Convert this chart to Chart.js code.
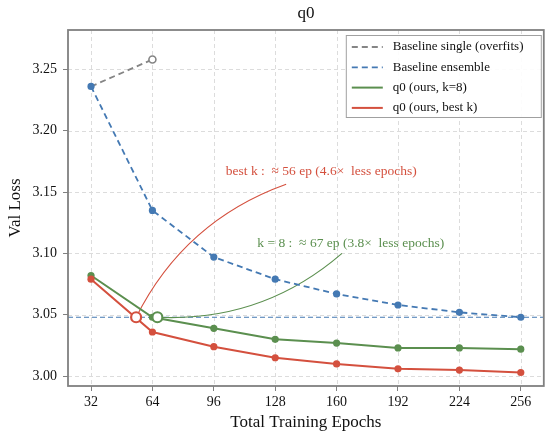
<!DOCTYPE html>
<html lang="en">
<head>
    <meta charset="UTF-8" />
    <title>q0</title>
    <script src="https://cdn.jsdelivr.net/npm/chart.js"></script>
    <style>
        html, body { margin: 0; padding: 0; background: #fff; }
    </style>
</head>
<body>
    <canvas id="myChart" width="551" height="441"></canvas>

    <script>
        // values
        const epochs = [32, 64, 96, 128, 160, 192, 224, 256];
        const singleEpochs = [32, 64];
        const baselineSingle = [3.236, 3.258];
        const baselineEnsemble = [3.236, 3.135, 3.097, 3.079, 3.067, 3.058, 3.052, 3.048];
        const q0K8 = [3.082, 3.048, 3.039, 3.030, 3.027, 3.023, 3.023, 3.022];
        const q0BestK = [3.079, 3.036, 3.024, 3.015, 3.010, 3.006, 3.005, 3.003];
        // where each q0 curve reaches the ensemble's final loss
        const crossBestK = 55.5;
        const crossK8 = 66.6;
        const xTicks = [32, 64, 96, 128, 160, 192, 224, 256];
        const yTicks = [3.00, 3.05, 3.10, 3.15, 3.20, 3.25];

        const GRAY = '#858585';
        const BLUE = '#4479b3';
        const GREEN = '#5b8f4f';
        const RED = '#d4503e';
        const SERIF = '"Liberation Serif", "Times New Roman", serif';

        const targetLoss = baselineEnsemble[baselineEnsemble.length - 1];

        const pts = (xs, ys) => xs.map((x, i) => ({ x: x, y: ys[i] }));

        // annotation text + arrow ends, in data units
        const notes = [
            { text: 'best k :  \u2248 56 ep (4.6\u00d7  less epochs)', color: RED,
              tx: 152, ty: 3.1666, ax: 133.7, ay: 3.1564, from: crossBestK, rad: 0.2 },
            { text: 'k = 8 :  \u2248 67 ep (3.8\u00d7  less epochs)', color: GREEN,
              tx: 167.4, ty: 3.108, ax: 162.8, ay: 3.100, from: crossK8, rad: -0.2 }
        ];

        const extras = {
            id: 'extras',
            beforeDatasetsDraw(chart) {
                const { ctx, chartArea: a, scales: { x, y } } = chart;

                // dashed grid at the tick positions
                ctx.save();
                ctx.strokeStyle = '#dcdcdc';
                ctx.lineWidth = 1;
                ctx.setLineDash([4, 3]);
                x.ticks.forEach(t => {
                    const px = Math.round(x.getPixelForValue(t.value)) + 0.5;
                    ctx.beginPath();
                    ctx.moveTo(px, a.top);
                    ctx.lineTo(px, a.bottom);
                    ctx.stroke();
                });
                y.ticks.forEach(t => {
                    const py = Math.round(y.getPixelForValue(t.value)) + 0.5;
                    ctx.beginPath();
                    ctx.moveTo(a.left, py);
                    ctx.lineTo(a.right, py);
                    ctx.stroke();
                });
                ctx.restore();

                // horizontal reference at the ensemble's final loss
                ctx.save();
                ctx.strokeStyle = BLUE;
                ctx.lineWidth = 1.2;
                ctx.setLineDash([5, 3]);
                const yy = y.getPixelForValue(targetLoss);
                ctx.beginPath();
                ctx.moveTo(a.left, yy);
                ctx.lineTo(a.right, yy);
                ctx.stroke();
                ctx.restore();

                // curved arrows from the crossing markers to the labels
                notes.forEach(n => {
                    const x1 = x.getPixelForValue(n.from), y1 = y.getPixelForValue(targetLoss);
                    const x2 = x.getPixelForValue(n.ax), y2 = y.getPixelForValue(n.ay);
                    const dx = x2 - x1, dy = y2 - y1;
                    const cx = (x1 + x2) / 2 + n.rad * dy;
                    const cy = (y1 + y2) / 2 - n.rad * dx;
                    ctx.save();
                    ctx.strokeStyle = n.color;
                    ctx.lineWidth = 1.1;
                    ctx.beginPath();
                    ctx.moveTo(x1, y1);
                    ctx.quadraticCurveTo(cx, cy, x2, y2);
                    ctx.stroke();
                    ctx.restore();
                });
            },
            afterDatasetsDraw(chart) {
                const { ctx, chartArea: a, scales: { x, y } } = chart;

                // annotation labels
                ctx.save();
                ctx.font = '13.5px ' + SERIF;
                ctx.textAlign = 'center';
                ctx.textBaseline = 'middle';
                notes.forEach(n => {
                    ctx.fillStyle = n.color;
                    ctx.fillText(n.text, x.getPixelForValue(n.tx), y.getPixelForValue(n.ty));
                });
                ctx.restore();

                // frame round the plot
                ctx.save();
                ctx.strokeStyle = '#808080';
                ctx.lineWidth = 1.8;
                ctx.strokeRect(a.left, a.top, a.right - a.left, a.bottom - a.top);
                ctx.restore();

                // legend, top right inside the plot
                const items = chart.data.datasets.filter(d => d.inLegend);
                const bx = a.right - 198, by = a.top + 5, bw = 195, bh = 82;
                ctx.save();
                ctx.fillStyle = 'rgba(255,255,255,0.9)';
                ctx.fillRect(bx, by, bw, bh);
                ctx.strokeStyle = '#a0a0a0';
                ctx.lineWidth = 1;
                ctx.strokeRect(bx + 0.5, by + 0.5, bw, bh);
                ctx.font = '13px ' + SERIF;
                ctx.textBaseline = 'middle';
                items.forEach((d, i) => {
                    const ly = by + 12 + i * 20.3;
                    ctx.strokeStyle = d.borderColor;
                    ctx.lineWidth = d.borderWidth;
                    ctx.setLineDash(d.borderDash || []);
                    ctx.beginPath();
                    ctx.moveTo(bx + 6, ly);
                    ctx.lineTo(bx + 37, ly);
                    ctx.stroke();
                    ctx.setLineDash([]);
                    ctx.fillStyle = '#111';
                    ctx.fillText(d.label, bx + 47, ly);
                });
                ctx.restore();

                // title and axis titles
                ctx.save();
                ctx.fillStyle = '#111';
                ctx.textAlign = 'center';
                ctx.textBaseline = 'middle';
                ctx.font = '17px ' + SERIF;
                ctx.fillText('q0', (a.left + a.right) / 2, 14);
                ctx.fillText('Total Training Epochs', (a.left + a.right) / 2, 423);
                ctx.translate(16, (a.top + a.bottom) / 2);
                ctx.rotate(-Math.PI / 2);
                ctx.fillText('Val Loss', 0, 0);
                ctx.restore();
            }
        };

        const ctx = document.getElementById('myChart').getContext('2d');

        const chart = new Chart(ctx, {
            type: 'scatter',
            data: {
                datasets: [
                    {
                        label: 'Baseline single (overfits)',
                        inLegend: true,
                        data: pts(singleEpochs, baselineSingle),
                        showLine: true,
                        borderColor: GRAY,
                        borderWidth: 1.8,
                        borderDash: [6, 4],
                        pointRadius: [0, 3.5],
                        pointBackgroundColor: '#fff',
                        pointBorderColor: GRAY,
                        pointBorderWidth: 1.6,
                        order: 4
                    },
                    {
                        label: 'Baseline ensemble',
                        inLegend: true,
                        data: pts(epochs, baselineEnsemble),
                        showLine: true,
                        borderColor: BLUE,
                        borderWidth: 1.8,
                        borderDash: [6, 4],
                        pointRadius: 3.6,
                        pointBackgroundColor: BLUE,
                        pointBorderColor: BLUE,
                        pointBorderWidth: 0,
                        order: 3
                    },
                    {
                        label: 'q0 (ours, k=8)',
                        inLegend: true,
                        data: pts(epochs, q0K8),
                        showLine: true,
                        borderColor: GREEN,
                        borderWidth: 2,
                        pointRadius: 3.6,
                        pointBackgroundColor: GREEN,
                        pointBorderColor: GREEN,
                        pointBorderWidth: 0,
                        order: 2
                    },
                    {
                        label: 'q0 (ours, best k)',
                        inLegend: true,
                        data: pts(epochs, q0BestK),
                        showLine: true,
                        borderColor: RED,
                        borderWidth: 2,
                        pointRadius: 3.6,
                        pointBackgroundColor: RED,
                        pointBorderColor: RED,
                        pointBorderWidth: 0,
                        order: 1
                    },
                    {
                        label: 'crossings',
                        data: [{ x: crossBestK, y: targetLoss }, { x: crossK8, y: targetLoss }],
                        showLine: false,
                        pointRadius: 5,
                        pointBackgroundColor: '#fff',
                        pointBorderColor: [RED, GREEN],
                        pointBorderWidth: 2.2,
                        order: 0
                    }
                ]
            },
            options: {
                responsive: false,
                animation: false,
                events: [],
                layout: { padding: { top: 30, right: 7, left: 0, bottom: 0 } },
                plugins: {
                    legend: { display: false },
                    title: { display: false },
                    tooltip: { enabled: false }
                },
                scales: {
                    x: {
                        type: 'linear',
                        min: 20,
                        max: 268,
                        afterBuildTicks: s => { s.ticks = xTicks.map(v => ({ value: v })); },
                        afterFit: s => { s.height = 55; },
                        grid: { drawOnChartArea: false, tickColor: '#808080', tickLength: 5 },
                        border: { display: false },
                        ticks: {
                            color: '#111',
                            padding: 3,
                            maxRotation: 0,
                            font: { family: SERIF, size: 14 }
                        }
                    },
                    y: {
                        min: 2.992,
                        max: 3.282,
                        afterBuildTicks: s => { s.ticks = yTicks.map(v => ({ value: v })); },
                        afterFit: s => { s.width = 68; },
                        grid: { drawOnChartArea: false, tickColor: '#808080', tickLength: 5 },
                        border: { display: false },
                        ticks: {
                            color: '#111',
                            padding: 6,
                            font: { family: SERIF, size: 14 },
                            callback: v => v.toFixed(2)
                        }
                    }
                }
            },
            plugins: [extras]
        });
    </script>
</body>
</html>
